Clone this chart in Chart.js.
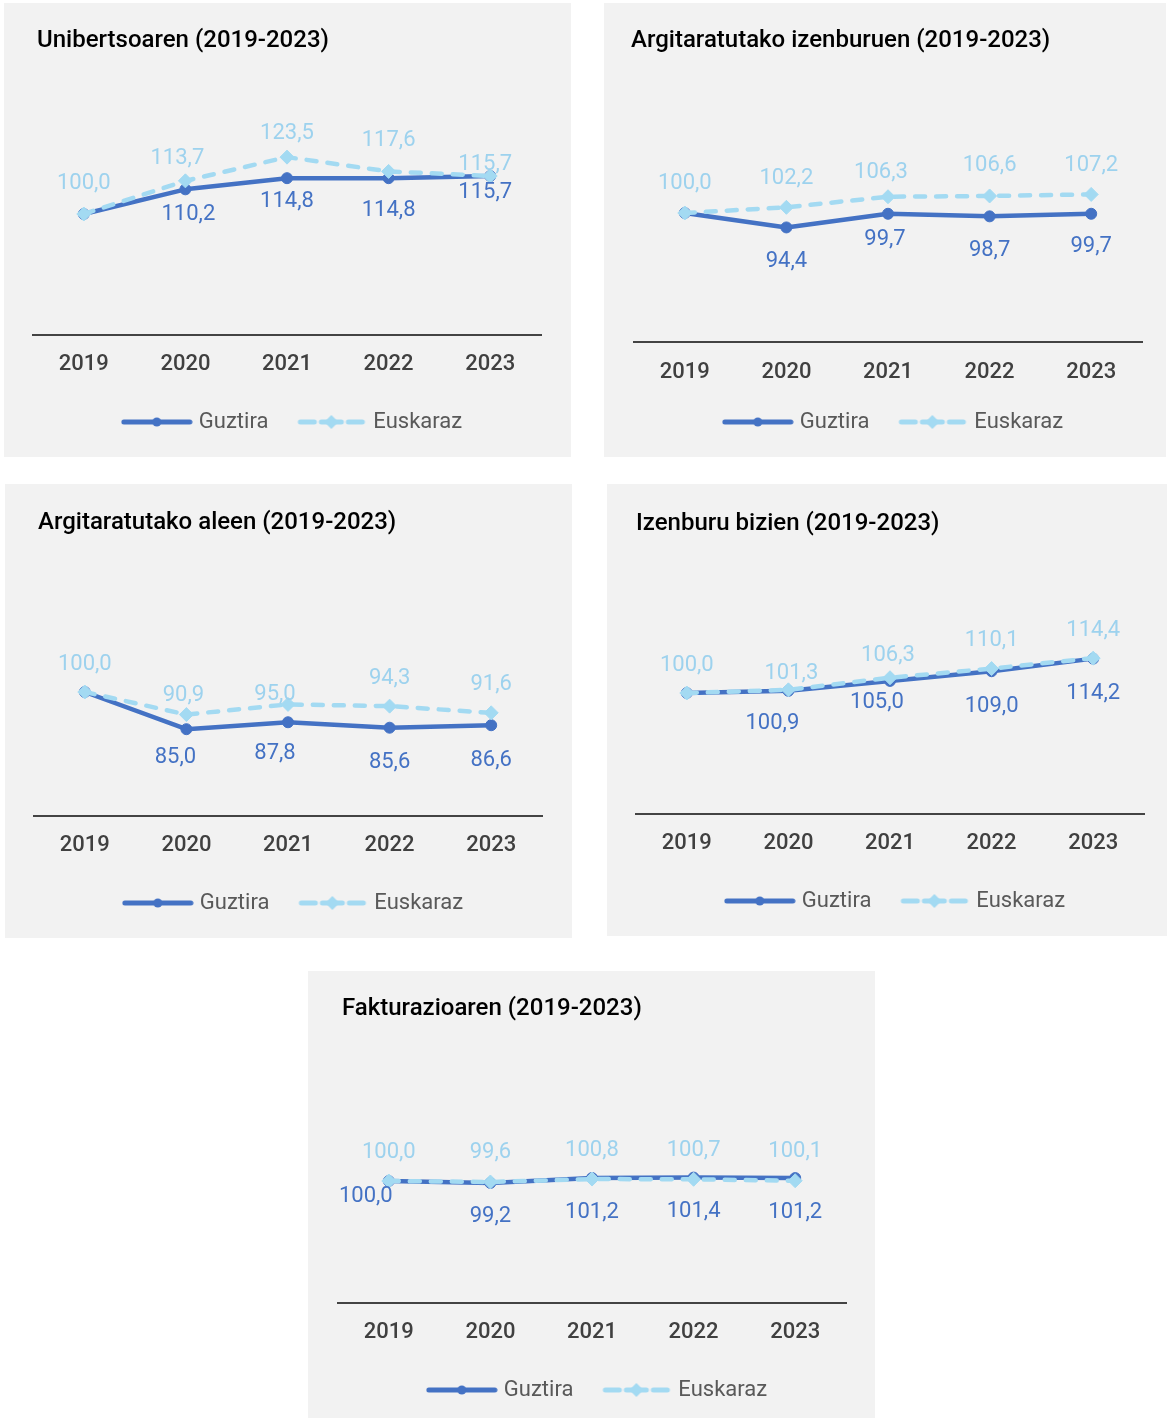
<!DOCTYPE html>
<html><head><meta charset="utf-8">
<script src="https://cdn.jsdelivr.net/npm/chart.js@4.4.1/dist/chart.umd.min.js"></script>
<style>
html,body{margin:0;padding:0;background:#fff}
body{width:1167px;height:1418px;position:relative;overflow:hidden}
.panel{position:absolute;background:#f2f2f2}
.panel canvas{display:block}
</style></head><body>
<div class="panel" style="left:4px;top:3px;width:567px;height:454px"><canvas id="c1" width="567" height="454"></canvas></div>
<div class="panel" style="left:604px;top:3px;width:562px;height:454px"><canvas id="c2" width="562" height="454"></canvas></div>
<div class="panel" style="left:5px;top:484px;width:567px;height:454px"><canvas id="c3" width="567" height="454"></canvas></div>
<div class="panel" style="left:607px;top:484px;width:560px;height:452px"><canvas id="c4" width="560" height="452"></canvas></div>
<div class="panel" style="left:308px;top:971px;width:567px;height:447px"><canvas id="c5" width="567" height="447"></canvas></div>
<script>
// ---- data ----
const years = ['2019', '2020', '2021', '2022', '2023'];
const seriesNames = ['Guztira', 'Euskaraz'];
const titles = [
  'Unibertsoaren (2019-2023)',
  'Argitaratutako izenburuen (2019-2023)',
  'Argitaratutako aleen (2019-2023)',
  'Izenburu bizien (2019-2023)',
  'Fakturazioaren (2019-2023)'
];
const unibertsoaGuztira = [100.0, 110.2, 114.8, 114.8, 115.7];
const unibertsoaEuskaraz = [100.0, 113.7, 123.5, 117.6, 115.7];
const izenburuGuztira = [100.0, 94.4, 99.7, 98.7, 99.7];
const izenburuEuskaraz = [100.0, 102.2, 106.3, 106.6, 107.2];
const aleGuztira = [100.0, 85.0, 87.8, 85.6, 86.6];
const aleEuskaraz = [100.0, 90.9, 95.0, 94.3, 91.6];
const biziGuztira = [100.0, 100.9, 105.0, 109.0, 114.2];
const biziEuskaraz = [100.0, 101.3, 106.3, 110.1, 114.4];
const fakturazioGuztira = [100.0, 99.2, 101.2, 101.4, 101.2];
const fakturazioEuskaraz = [100.0, 99.6, 100.8, 100.7, 100.1];

// ---- styling / layout ----
const BLUE = '#4472C4';
const LIGHT = '#A3DAF2';
const LIGHT_TXT = '#9DD2EE';
const FONT = 'Roboto';

const panels = [
  {id:'c1', w:567, h:454, axL:29, axR:537, plotTop:90, axisY:332, titleY:38, titleDX:4, tickY:361, legendY:419,
   g:[unibertsoaGuztira], e:[unibertsoaEuskaraz],
   shiftG:[null,[3,25],[0,23],[0,32],[-5,16]],
   shiftE:[[0,-31],[-8,-22],[0,-24],[0,-31],[-5,-12]]},
  {id:'c2', w:562, h:454, axL:30, axR:538, plotTop:81, axisY:339, titleY:38, titleDX:-3, tickY:369, legendY:419,
   g:[izenburuGuztira], e:[izenburuEuskaraz],
   shiftG:[null,[0,34],[-3,26],[0,34],[0,33]],
   shiftE:[[0,-30],[0,-29],[-7,-24],[0,-30],[0,-29]]},
  {id:'c3', w:567, h:454, axL:29, axR:537, plotTop:84, axisY:332, titleY:39, titleDX:4, tickY:361, legendY:419,
   g:[aleGuztira], e:[aleEuskaraz],
   shiftG:[null,[-11,28],[-13,31],[0,35],[0,35]],
   shiftE:[[0,-28],[-3,-19],[-13,-10],[0,-28],[0,-28]]},
  {id:'c4', w:560, h:452, axL:29, axR:537, plotTop:88, axisY:330, titleY:40, titleDX:0, tickY:359, legendY:417,
   g:[biziGuztira], e:[biziEuskaraz],
   shiftG:[null,[-16,33],[-13,22],[0,35],[0,35]],
   shiftE:[[0,-28],[3,-16],[-2,-22],[0,-28],[0,-28]]},
  {id:'c5', w:567, h:447, axL:30, axR:538, plotTop:88, axisY:332, titleY:38, titleDX:4, tickY:361, legendY:419,
   g:[fakturazioGuztira], e:[fakturazioEuskaraz],
   shiftG:[[-23,15],[0,34],[0,34],[0,34],[0,34]],
   shiftE:[[0,-29],[0,-29],[0,-29],[0,-29],[0,-29]]}
];

function fmt(v){ return v.toFixed(1).replace('.', ','); }

// legend symbols
function legendSymbolGuztira(){
  const c = document.createElement('canvas'); c.width = 72; c.height = 14;
  const x = c.getContext('2d');
  x.strokeStyle = BLUE; x.lineWidth = 5; x.lineCap = 'round';
  x.beginPath(); x.moveTo(3,7); x.lineTo(69,7); x.stroke();
  x.fillStyle = BLUE; x.beginPath(); x.arc(36,7,4.5,0,Math.PI*2); x.fill();
  return c;
}
function legendSymbolEuskaraz(){
  const c = document.createElement('canvas'); c.width = 72; c.height = 16;
  const x = c.getContext('2d');
  x.strokeStyle = LIGHT; x.lineWidth = 5; x.lineCap = 'round';
  x.beginPath(); x.moveTo(5,8); x.lineTo(19,8); x.moveTo(53,8); x.lineTo(67,8); x.moveTo(26,8); x.lineTo(46,8); x.stroke();
  x.fillStyle = LIGHT; x.beginPath(); x.moveTo(36,1); x.lineTo(43,8); x.lineTo(36,15); x.lineTo(29,8); x.closePath(); x.fill();
  return c;
}
const symG = legendSymbolGuztira();
const symE = legendSymbolEuskaraz();

function makeLabelPlugin(p){
  return {
    id: 'valueLabels_' + p.id,
    afterLayout(chart){
      if (chart.legend) { chart.legend.left += 7; chart.legend.right += 7; }
      if (chart.titleBlock) { chart.titleBlock.left += p.titleDX; chart.titleBlock.right += p.titleDX; }
    },
    afterDatasetsDraw(chart){
      const ctx = chart.ctx;
      ctx.save();
      ctx.font = '22px ' + FONT;
      ctx.textAlign = 'center';
      ctx.textBaseline = 'middle';
      const specs = [[0, p.shiftG, BLUE], [1, p.shiftE, LIGHT_TXT]];
      specs.forEach(([di, shifts, col]) => {
        const ds = chart.data.datasets[di];
        const meta = chart.getDatasetMeta(di);
        meta.data.forEach((pt, i) => {
          const s = shifts[i];
          if (!s) return;
          ctx.fillStyle = col;
          ctx.fillText(fmt(ds.data[i]), pt.x + s[0], pt.y + s[1]);
        });
      });
      ctx.restore();
    }
  };
}

panels.forEach((p, idx) => {
  const legendPad = 32;
  const legendFont = 22;
  const legendCenterOff = legendPad + legendFont / 2;
  const legendH = legendFont + legendPad + 10;
  const legendTop = p.legendY - legendCenterOff;
  const padBottom = p.h - (legendTop + legendH);
  const xH = legendTop - p.axisY;
  const tickPad = p.tickY - p.axisY - 13.2;
  const titleFont = 24;
  const titlePadTop = p.titleY - titleFont * 0.6;
  const titlePadBottom = p.plotTop - titlePadTop - titleFont * 1.2;

  new Chart(document.getElementById(p.id), {
    type: 'line',
    data: {
      labels: years,
      datasets: [
        {
          label: seriesNames[0], data: p.g[0], order: 1,
          borderColor: BLUE, backgroundColor: BLUE, borderWidth: 4.5,
          pointStyle: 'circle', pointRadius: 5.5, pointBackgroundColor: BLUE, pointBorderColor: BLUE,
          pointBorderWidth: 1, tension: 0, borderJoinStyle: 'round', borderCapStyle: 'round'
        },
        {
          label: seriesNames[1], data: p.e[0], order: 0,
          borderColor: LIGHT, backgroundColor: LIGHT, borderWidth: 4.5, borderDash: [10, 11],
          borderCapStyle: 'round', borderJoinStyle: 'round',
          pointStyle: 'rectRot', pointRadius: 7, pointBackgroundColor: LIGHT, pointBorderColor: LIGHT,
          pointBorderWidth: 1, tension: 0
        }
      ]
    },
    options: {
      responsive: false,
      animation: false,
      devicePixelRatio: 1,
      layout: { padding: { left: p.axL, right: p.w - p.axR, top: 0, bottom: padBottom } },
      scales: {
        x: {
          offset: true,
          grid: { display: false, drawTicks: false },
          border: { display: true, color: '#444444', width: 2 },
          ticks: { color: '#404040', padding: tickPad, font: { family: FONT, size: 22, weight: '500' } },
          afterFit(scale){ scale.height = xH; }
        },
        y: { display: false, min: 50, max: 150 }
      },
      plugins: {
        title: {
          display: true, text: titles[idx], align: 'start', color: '#000000',
          font: { family: FONT, size: titleFont, weight: '500' },
          padding: { top: titlePadTop, bottom: titlePadBottom }
        },
        legend: {
          display: true, position: 'bottom',
          labels: {
            usePointStyle: true, pointStyleWidth: 62, boxWidth: 62, padding: legendPad,
            color: '#595959', font: { family: FONT, size: legendFont },
            generateLabels(){
              return [
                { text: seriesNames[0], pointStyle: symG, datasetIndex: 0, hidden: false, fontColor: '#595959', lineWidth: 0 },
                { text: seriesNames[1], pointStyle: symE, datasetIndex: 1, hidden: false, fontColor: '#595959', lineWidth: 0 }
              ];
            }
          }
        },
        tooltip: { enabled: false }
      }
    },
    plugins: [makeLabelPlugin(p)]
  });
});
</script>
</body></html>
